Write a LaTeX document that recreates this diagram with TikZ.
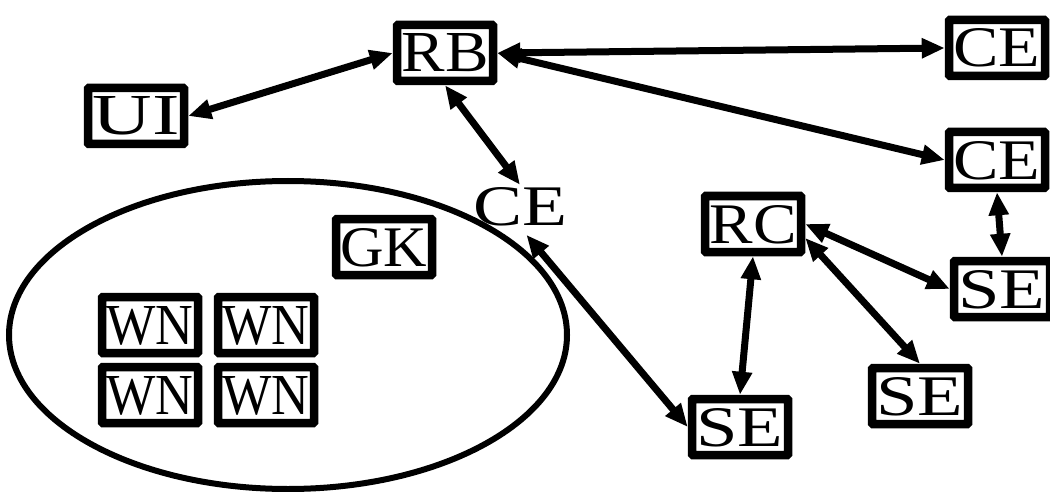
\documentclass[tikz,border=0pt]{standalone}
\usepackage{fontspec}
\setmainfont{Liberation Serif}
\usetikzlibrary{arrows.meta}
\newcommand{\boxtxt}[1]{\resizebox{87pt}{38pt}{#1}}
\tikzset{
  boxnode/.style={draw=black, line width=8.5pt, rectangle, rounded corners=1pt,
    minimum width=96pt, minimum height=56pt, inner sep=0pt,
    text height=38pt, text depth=0pt,
    font=\fontsize{56}{56}\selectfont},
  plainnode/.style={inner sep=2pt, text height=38pt, text depth=0pt,
    font=\fontsize{57}{57}\selectfont},
  link/.style={line width=7pt, {Triangle[length=23pt,width=19pt]}-{Triangle[length=23pt,width=19pt]}},
  cluster/.style={draw=black, line width=6pt}
}
\begin{document}
\begin{tikzpicture}[x=1pt,y=-1pt]
\useasboundingbox (0,0) rectangle (1050,492);
\draw[cluster] (288,335) ellipse [x radius=279, y radius=154];

\node[boxnode] (rb)  at (445,53)  {\boxtxt{RB}};
\node[boxnode] (ui)  at (136,116) {\boxtxt{UI}};
\node[boxnode] (ce1) at (997,48)  {\boxtxt{CE}};
\node[boxnode] (ce2) at (997,160) {\boxtxt{CE}};
\node[plainnode] (ce3) at (520,206) {\resizebox{94pt}{38pt}{CE}};
\node[boxnode] (gk)  at (384,247) {\boxtxt{GK}};
\node[boxnode] (rc)  at (753,224) {\boxtxt{RC}};
\node[boxnode] (se2) at (1002,289) {\boxtxt{SE}};
\node[boxnode] (se3) at (920,396) {\boxtxt{SE}};
\node[boxnode] (se1) at (740,427) {\boxtxt{SE}};
\node[boxnode] (wn1) at (150,325) {\boxtxt{WN}};
\node[boxnode] (wn2) at (266,325) {\boxtxt{WN}};
\node[boxnode] (wn3) at (150,395) {\boxtxt{WN}};
\node[boxnode] (wn4) at (266,395) {\boxtxt{WN}};

\draw[link] (ui.east) -- (rb.west);
\draw[link] (rb.east) -- (ce1.west);
\draw[link] (rb.east) -- (ce2.west);
\draw[link] (rb.south) -- (ce3.north);
\draw[link, shorten <=10pt] (ce3.south) -- (se1.west);
\draw[link] (ce2.south) -- (se2.north);
\draw[link] (rc.east) -- (se2.west);
\draw[link] (rc.-15) -- (se3.north);
\draw[link] (rc.south) -- (se1.north);
\end{tikzpicture}
\end{document}
